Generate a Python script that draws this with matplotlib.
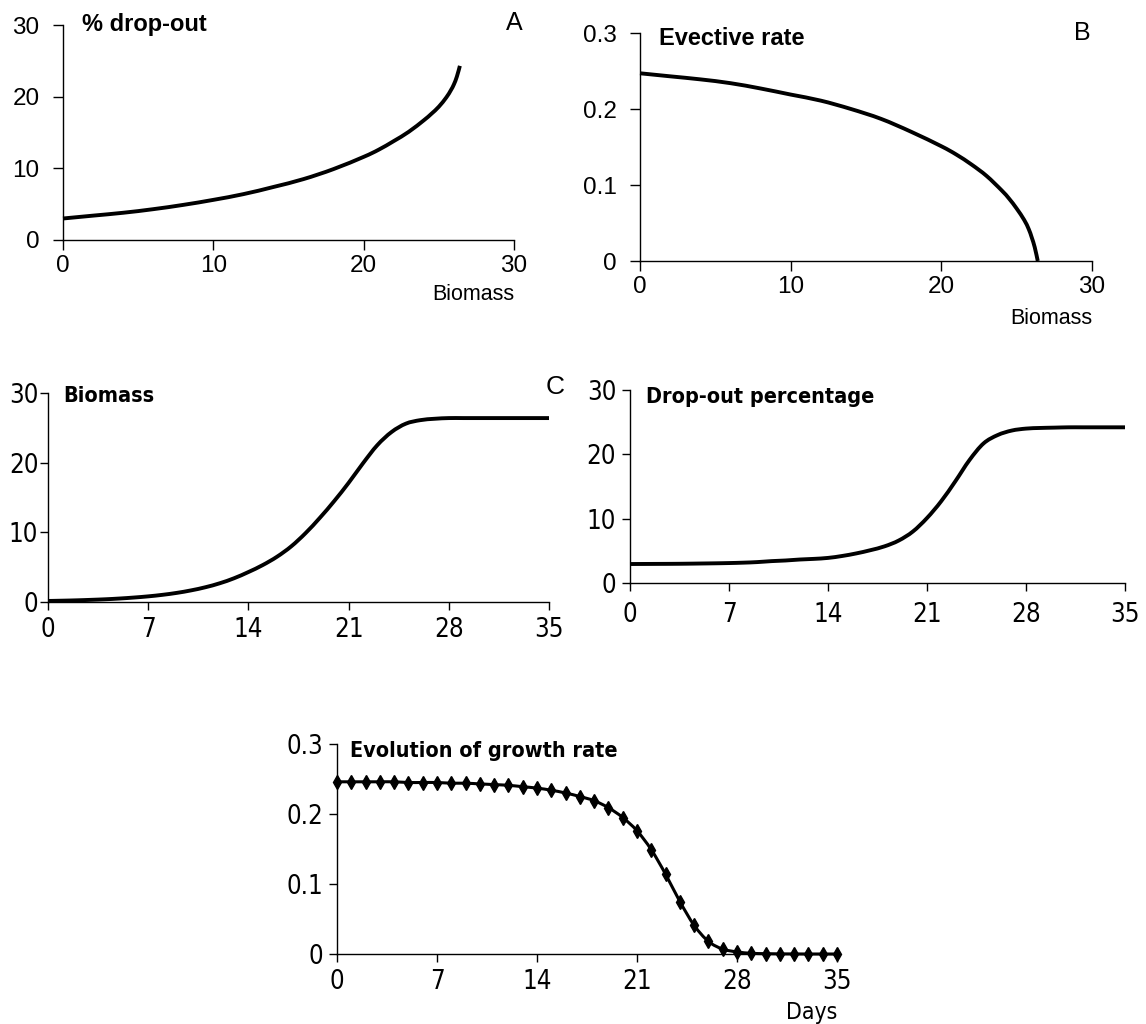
import matplotlib.pyplot as plt
from matplotlib import font_manager
from matplotlib.font_manager import FontProperties
from matplotlib.path import Path
from matplotlib.patches import PathPatch

# --- data ---

# A: % drop-out vs biomass
a_biomass = [0, 2, 4, 6, 8, 10, 12, 14, 16, 18, 20, 21, 22, 23, 24, 24.5, 25, 25.5,
             25.8, 26, 26.2, 26.4]
a_dropout = [3.0, 3.4, 3.8, 4.3, 4.9, 5.6, 6.4, 7.4, 8.5, 9.9, 11.6, 12.6, 13.8, 15.1,
             16.7, 17.6, 18.6, 19.9, 20.9, 21.7, 22.8, 24.3]

# B: effective rate vs biomass
b_biomass = [0, 2, 4, 6, 8, 10, 12, 14, 16, 18, 20, 21, 22, 23, 24, 24.5, 25, 25.5,
             25.8, 26, 26.2, 26.4]
b_rate = [0.247, 0.243, 0.239, 0.234, 0.227, 0.219, 0.211, 0.200, 0.187, 0.170, 0.151,
          0.140, 0.127, 0.112, 0.093, 0.082, 0.069, 0.054, 0.042, 0.031, 0.018, 0.0]

days = list(range(36))

# C: biomass per day
c_biomass = [0.15, 0.19, 0.24, 0.31, 0.39, 0.50, 0.64, 0.81, 1.03, 1.31, 1.67, 2.12,
             2.69, 3.41, 4.3, 5.3, 6.5, 8.0, 9.9, 12.1, 14.5, 17.1, 19.9, 22.5, 24.4,
             25.6, 26.1, 26.3, 26.4, 26.4, 26.4, 26.4, 26.4, 26.4, 26.4, 26.4]

# D: drop-out percentage per day
d_dropout = [2.95, 2.96, 2.97, 2.98, 3.0, 3.03, 3.06, 3.1, 3.16, 3.25, 3.4, 3.5,
             3.65, 3.75, 3.9, 4.2, 4.6, 5.1, 5.7, 6.6, 8.0, 10.1, 12.7, 15.8, 19.1,
             21.7, 23.0, 23.7, 24.0, 24.1, 24.15, 24.2, 24.2, 24.2, 24.2, 24.2]

# E: growth rate per day
e_rate = [0.246, 0.246, 0.246, 0.246, 0.246, 0.245, 0.245, 0.245, 0.244, 0.244, 0.243,
          0.242, 0.241, 0.239, 0.237, 0.234, 0.230, 0.225, 0.219, 0.209, 0.195, 0.176,
          0.149, 0.114, 0.075, 0.041, 0.018, 0.007, 0.003, 0.001, 0.0005, 0.0002,
          0.0001, 0.0, 0.0, 0.0]

W, H = 1146, 1024
REG = "Liberation Sans"
plt.rcParams["font.family"] = REG


def is_bold(w):
    if isinstance(w, str):
        return w.lower() in ("bold", "heavy", "black", "semibold", "demibold", "700", "800")
    return w >= 600


def find_narrow(bold):
    # look for an installed condensed sans face (the reference uses Arial Narrow style text)
    prefs = ["Liberation Sans Narrow", "Arial Narrow", "DejaVu Sans", "Noto Sans",
             "Roboto", "Open Sans", "Inter", "Lato"]
    cond = ("condensed", "semi-condensed", "extra-condensed", "ultra-condensed")
    for name in prefs:
        for f in font_manager.fontManager.ttflist:
            narrow = ("narrow" in f.name.lower() or "condensed" in f.name.lower()
                      or str(f.stretch).lower() in cond or "condensed" in f.fname.lower())
            if f.name.startswith(name.split()[0]) and narrow and f.style == "normal" \
                    and is_bold(f.weight) == bold:
                return f.fname
    return None


nreg = find_narrow(False)
nbold = find_narrow(True)


def nfont(size, bold=False):
    path = nbold if bold else nreg
    if path:
        return FontProperties(fname=path, size=size)
    return FontProperties(family=REG, size=size * 0.85, weight="bold" if bold else "normal")


def rect(l, r, t, b):
    return [l / W, 1 - b / H, (r - l) / W, (b - t) / H]


def ftext(fig, x, y, s, **kw):
    fig.text(x / W, 1 - y / H, s, **kw)


def smooth(ax, x, y, lw):
    # Excel-like smoothed line through the data points
    pts = list(zip(x, y))
    n = len(pts)
    verts = [pts[0]]
    codes = [Path.MOVETO]
    for i in range(n - 1):
        p0 = pts[i - 1] if i > 0 else pts[i]
        p1, p2 = pts[i], pts[i + 1]
        p3 = pts[i + 2] if i + 2 < n else pts[i + 1]
        c1 = (p1[0] + (p2[0] - p0[0]) / 6, p1[1] + (p2[1] - p0[1]) / 6)
        c2 = (p2[0] - (p3[0] - p1[0]) / 6, p2[1] - (p3[1] - p1[1]) / 6)
        verts += [c1, c2, p2]
        codes += [Path.CURVE4] * 3
    ax.add_patch(PathPatch(Path(verts, codes), fill=False, lw=lw, edgecolor="black",
                           clip_on=False, capstyle="butt", joinstyle="round"))


def style(ax, xpad, ypad, tlen=6, fp=None, size=18):
    for side in ("top", "right"):
        ax.spines[side].set_visible(False)
    for side in ("left", "bottom"):
        ax.spines[side].set_linewidth(1.0)
    ax.tick_params(direction="out", length=tlen, width=1.0, colors="black")
    ax.tick_params(axis="x", pad=xpad)
    ax.tick_params(axis="y", pad=ypad)
    for lab in ax.get_xticklabels() + ax.get_yticklabels():
        if fp is not None:
            lab.set_fontproperties(fp)
        else:
            lab.set_fontsize(size)


fig = plt.figure(figsize=(W / 100, H / 100), dpi=100)

# A
ax = fig.add_axes(rect(63, 514, 25, 240))
smooth(ax, a_biomass, a_dropout, 2.8)
ax.set_xlim(0, 30)
ax.set_ylim(0, 30)
ax.set_xticks([0, 10, 20, 30])
ax.set_yticks([0, 10, 20, 30])
style(ax, 4, 10, tlen=7, size=17.5)
ftext(fig, 82, 24, "% drop-out", fontsize=17, fontweight="bold", va="center", ha="left")
ftext(fig, 514, 23, "A", fontsize=18, va="center", ha="center")
ftext(fig, 514, 295, "Biomass", fontsize=15.5, va="center", ha="right")

# B
ax = fig.add_axes(rect(640, 1092, 33, 261))
smooth(ax, b_biomass, b_rate, 2.8)
ax.set_xlim(0, 30)
ax.set_ylim(0, 0.3)
ax.set_xticks([0, 10, 20, 30])
ax.set_yticks([0, 0.1, 0.2, 0.3])
ax.set_yticklabels(["0", "0.1", "0.2", "0.3"])
style(ax, 4, 10, tlen=7, size=17.5)
ftext(fig, 659, 38.5, "Evective rate", fontsize=17, fontweight="bold", va="center", ha="left")
ftext(fig, 1082, 32.5, "B", fontsize=18, va="center", ha="center")
ftext(fig, 1092, 319, "Biomass", fontsize=15.5, va="center", ha="right")

# C
ax = fig.add_axes(rect(48, 549, 393, 602))
smooth(ax, days, c_biomass, 2.8)
ax.set_xlim(0, 35)
ax.set_ylim(0, 30)
ax.set_xticks([0, 7, 14, 21, 28, 35])
ax.set_yticks([0, 10, 20, 30])
style(ax, 5, 1, tlen=6, fp=nfont(18.5))
ftext(fig, 63, 396, "Biomass", fontproperties=nfont(15.5, True), va="center", ha="left")
ftext(fig, 555, 387, "C", fontsize=19, va="center", ha="center")

# D
ax = fig.add_axes(rect(630, 1125, 390, 583))
smooth(ax, days, d_dropout, 2.8)
ax.set_xlim(0, 35)
ax.set_ylim(0, 30)
ax.set_xticks([0, 7, 14, 21, 28, 35])
ax.set_yticks([0, 10, 20, 30])
style(ax, 8, 4, tlen=6, fp=nfont(18.5))
ftext(fig, 646, 397, "Drop-out percentage", fontproperties=nfont(15.5, True),
      va="center", ha="left")

# E
ax = fig.add_axes(rect(337, 837, 744, 954))
smooth(ax, days, e_rate, 2.2)
ax.plot(days, e_rate, ls="none", color="black", marker="d", markersize=7, clip_on=False)
ax.set_xlim(0, 35)
ax.set_ylim(0, 0.3)
ax.set_xticks([0, 7, 14, 21, 28, 35])
ax.set_yticks([0, 0.1, 0.2, 0.3])
ax.set_yticklabels(["0", "0.1", "0.2", "0.3"])
style(ax, 5, 4, tlen=6, fp=nfont(18.5))
ftext(fig, 350, 751, "Evolution of growth rate", fontproperties=nfont(15.5, True),
      va="center", ha="left")
ftext(fig, 837, 1013, "Days", fontproperties=nfont(16.5), va="center", ha="right")

fig.savefig("out.png", dpi=100)
